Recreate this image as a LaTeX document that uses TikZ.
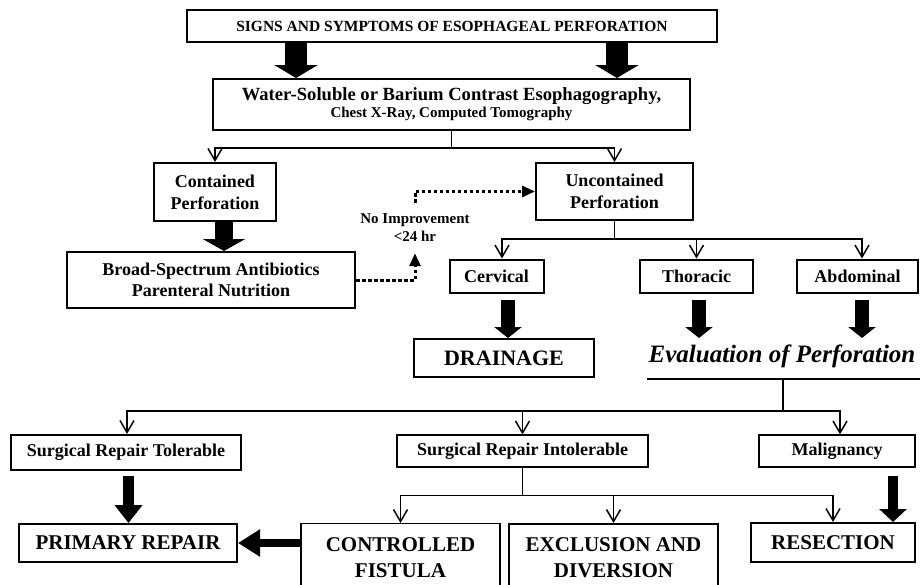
\documentclass[tikz,border=0pt]{standalone}
\usepackage{fontspec}
\setmainfont{Liberation Serif}
\usetikzlibrary{arrows.meta}
\newcommand\fsz[2]{\fontsize{#1}{#2}\selectfont}
\begin{document}
\begin{tikzpicture}[x=1pt,y=-1pt,
  box/.style={draw, line width=2pt, inner sep=0pt, align=center, font=\bfseries},
  thinbox/.style={box, line width=1.1pt},
  conn/.style={line width=1.5pt},
  carr/.style={conn, -{Straight Barb[length=12pt,width=14pt,line width=1.5pt]}},
  fat/.style n args={3}{line width=#1, -{Triangle[length=#2,width=#3]}},
  dotc/.style={line width=3pt, dash pattern=on 3.5pt off 2.5pt, -{Triangle[length=13pt,width=11pt]}}
]
\useasboundingbox (0,0) rectangle (920,584);
\clip (0,0) rectangle (920,584);

% boxes
\node[box, minimum width=530pt, minimum height=32pt] (top) at (452,26)
  {\fsz{15.5}{18}SIGNS AND SYMPTOMS OF ESOPHAGEAL PERFORATION};
\node[box, minimum width=477pt, minimum height=51pt, font=\bfseries\fsz{15}{16}] (wsc) at (451.5,104.5)
  {{\fsz{18.6}{16}Water-Soluble or Barium Contrast Esophagography,}\\[1pt]{\fsz{15}{16}Chest X-Ray, Computed Tomography}};
\node[box, minimum width=122pt, minimum height=58pt, font=\bfseries\fsz{18}{22}] (cont) at (215,192)
  {Contained\\Perforation};
\node[box, minimum width=157pt, minimum height=57pt, font=\bfseries\fsz{18}{22}] (unc) at (614.5,191.5)
  {Uncontained\\Perforation};
\node[box, minimum width=288pt, minimum height=56pt, font=\bfseries\fsz{18}{21}] (broad) at (211,280)
  {Broad-Spectrum Antibiotics\\Parenteral Nutrition};
\node[inner sep=0pt, minimum height=50pt, align=center, font=\bfseries\fsz{15}{18}] (noimp) at (415,228)
  {No Improvement\\<24 hr};
\node[box, minimum width=94pt, minimum height=33pt, font=\bfseries\fsz{18}{22}] (cerv) at (496.5,276) {Cervical};
\node[box, minimum width=113pt, minimum height=33pt, font=\bfseries\fsz{18}{22}] (thor) at (696.5,276) {Thoracic};
\node[box, minimum width=121pt, minimum height=33pt, font=\bfseries\fsz{18}{22}] (abd) at (857.5,276) {Abdominal};
\node[box, minimum width=180pt, minimum height=38pt, font=\bfseries\fsz{22}{26}] (drain) at (504,358) {DRAINAGE};
\node[inner sep=0pt, anchor=base, font=\bfseries\itshape\fsz{25}{30}] (eval) at (782,362) {Evaluation of Perforation};
\coordinate (evL) at (647,379);
\coordinate (evR) at (920,379);
\coordinate (evM) at (783,379);
\node[box, minimum width=230pt, minimum height=35pt, font=\bfseries\fsz{18}{22}] (tol) at (126,452.5) {Surgical Repair Tolerable};
\node[thinbox, minimum width=251pt, minimum height=32pt, font=\bfseries\fsz{18}{22}] (intol) at (522.5,451) {Surgical Repair Intolerable};
\node[thinbox, minimum width=156pt, minimum height=32pt, font=\bfseries\fsz{18}{22}] (malig) at (837,451) {Malignancy};
\node[box, minimum width=218pt, minimum height=38pt, font=\bfseries\fsz{21}{26}] (prim) at (128,543) {PRIMARY REPAIR};
\node[thinbox, minimum width=199pt, minimum height=68pt, anchor=north, font=\bfseries\fsz{21}{26}] (ctrl) at (400.5,523) {CONTROLLED\\FISTULA};
\node[box, minimum width=209pt, minimum height=68pt, anchor=north, font=\bfseries\fsz{21}{26}] (excl) at (613.5,523) {EXCLUSION AND\\DIVERSION};
\node[box, minimum width=164pt, minimum height=39pt, font=\bfseries\fsz{21}{26}] (resec) at (833,542.5) {RESECTION};

% fat arrows
\draw[fat={22pt}{13pt}{43pt}] ([xshift=-156pt]top.south) -- ([xshift=-156pt]top.south |- wsc.north);
\draw[fat={22pt}{13pt}{43pt}] ([xshift=165pt]top.south) -- ([xshift=165pt]top.south |- wsc.north);
\draw[fat={18pt}{12pt}{42pt}] ([xshift=9pt]cont.south) -- ([xshift=9pt]cont.south |- broad.north);
\draw[fat={14pt}{11pt}{27pt}] ([xshift=11.5pt,yshift=-6pt]cerv.south) -- ([xshift=11.5pt]cerv.south |- drain.north);
\draw[fat={14pt}{11pt}{27pt}] ([xshift=2.5pt,yshift=-6pt]thor.south) -- ([xshift=2.5pt]thor.south |- drain.north);
\draw[fat={14pt}{11pt}{27pt}] ([xshift=4.5pt,yshift=-6pt]abd.south) -- ([xshift=4.5pt]abd.south |- drain.north);
\draw[fat={11pt}{18pt}{27pt}] ([xshift=2.5pt,yshift=-5pt]tol.south) -- ([xshift=2.5pt]tol.south |- prim.north);
\draw[fat={10pt}{13pt}{27pt}] ([xshift=56pt,yshift=-8pt]malig.south) -- ([xshift=56pt]malig.south |- resec.north);
\draw[fat={8pt}{22pt}{26pt}] (ctrl.west |- prim.east) -- (prim.east);

% thin connectors
\draw[conn] (wsc.south) -- ++(0,17) coordinate (j1);
\draw[carr] (j1) -| (cont.north);
\draw[carr] (j1) -| (unc.north);
\draw[conn] (unc.south) -- ++(0,18) coordinate (j2);
\draw[carr] (j2) -| ([xshift=5.5pt]cerv.north);
\draw[carr] (j2) -| (thor.north);
\draw[carr] (j2) -| ([xshift=4.5pt]abd.north);
\draw[line width=2pt] (evL) -- (evR);
\draw[conn] (evM) -- ++(0,32) coordinate (j3);
\draw[carr] (j3) -| ([xshift=1pt]tol.north);
\draw[carr] (j3) -| (intol.north);
\draw[carr] (j3) -| ([xshift=3pt]malig.north);
\draw[conn] (intol.south) -- ++(0,28) coordinate (j4);
\draw[carr] (j4) -| (ctrl.north);
\draw[carr] (j4) -| (excl.north);
\draw[carr] (j4) -| (resec.north);

% dotted
\draw[dotc] (broad.east) -| (noimp.south);
\draw[dotc] (noimp.north) |- (unc.west);
\end{tikzpicture}
\end{document}
